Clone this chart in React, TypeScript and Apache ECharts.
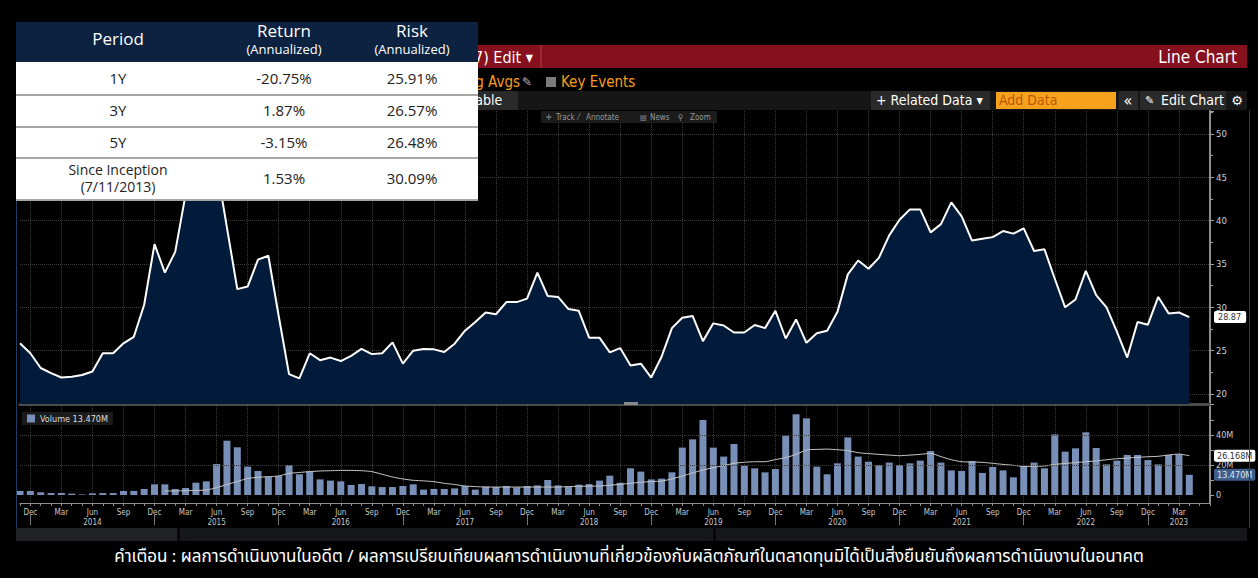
import React, { useEffect, useRef } from "react";
import * as echarts from "echarts";

// ---------- DATA ----------
const START_YEAR = 2013;
const START_MONTH = 11; // Nov 2013
const CATEGORY_COUNT = 116; // Nov 2013 .. Jun 2023 (axis runs 2 months past last data)

const categories: string[] = [];
for (let k = 0; k < CATEGORY_COUNT; k++) {
  const m0 = START_MONTH - 1 + k;
  const y = START_YEAR + Math.floor(m0 / 12);
  const m = (m0 % 12) + 1;
  categories.push(`${y}-${String(m).padStart(2, "0")}`);
}

const priceValues: number[] = [
  25.85, 24.7, 23.0, 22.4, 21.9, 22.0, 22.2, 22.6, 24.7, 24.7,
  25.85, 26.6, 30.3, 37.3, 34.0, 36.4, 43.0, 48.0, 49.0, 46.3,
  39.2, 32.1, 32.4, 35.5, 35.95, 29.0, 22.3, 21.8, 24.7, 23.9,
  24.2, 23.8, 24.4, 25.2, 24.6, 24.7, 25.96, 23.5, 25.0, 25.2,
  25.15, 24.85, 25.8, 27.3, 28.3, 29.4, 29.2, 30.6, 30.6, 31.0,
  34.0, 31.3, 31.2, 29.8, 29.6, 26.5, 26.5, 24.8, 25.3, 23.3,
  23.5, 21.9, 24.3, 27.6, 28.8, 29.0, 26.1, 28.15, 27.9, 27.1,
  27.1, 27.96, 27.6, 29.6, 26.4, 28.6, 25.9, 27.0, 27.3, 29.5,
  33.8, 35.4, 34.45, 35.7, 38.3, 40.1, 41.3, 41.3, 38.65, 39.6,
  42.1, 40.5, 37.7, 37.9, 38.1, 38.8, 38.5, 39.1, 36.5, 36.7,
  33.3, 30.0, 30.9, 34.2, 31.4, 30.0, 27.2, 24.2, 28.3, 28.0,
  31.2, 29.3, 29.4, 28.87,
];

// monthly volume, millions
const volumeValues: number[] = [
  2.7, 2.7, 1.8, 1.3, 1.3, 0.9, 0.4, 1.1, 1.3, 1.3,
  2.7, 2.7, 4.0, 7.1, 7.1, 4.0, 4.7, 8.2, 9.1, 20.7,
  36.2, 31.8, 18.9, 16.0, 12.2, 12.7, 20.0, 13.8, 15.8, 10.4,
  9.6, 9.1, 6.7, 7.3, 5.8, 5.3, 5.3, 6.0, 7.1, 3.6,
  4.0, 4.0, 4.4, 6.0, 3.6, 5.6, 5.3, 6.0, 5.1, 6.0,
  6.4, 10.0, 6.4, 5.6, 6.9, 7.3, 9.6, 12.9, 8.2, 17.8,
  15.6, 10.4, 10.9, 15.1, 31.6, 37.1, 50.0, 31.6, 25.6, 34.0,
  19.6, 17.8, 15.1, 17.3, 39.6, 53.8, 51.1, 18.9, 13.8, 21.1,
  38.4, 25.6, 22.2, 20.0, 21.6, 20.0, 21.1, 22.9, 29.3, 21.6,
  16.4, 16.0, 22.7, 14.7, 18.7, 16.4, 11.8, 19.3, 21.6, 17.8,
  40.4, 28.9, 31.1, 41.8, 31.3, 20.4, 22.9, 26.7, 26.7, 23.3,
  20.4, 26.7, 27.1, 13.47,
];

// volume moving average, millions
const volumeMA: (number | null)[] = [
  null, null, null, null, null, null, null, null, null, null,
  null, null, null, null, 2.7, 2.7, 2.9, 3.0, 3.3, 4.9,
  7.0, 9.0, 11.0, 11.8, 12.2, 12.7, 14.4, 15.0, 15.6, 16.0,
  16.2, 16.4, 16.4, 16.2, 15.6, 13.8, 12.0, 10.7, 9.8, 9.4,
  8.9, 7.8, 7.0, 6.0, 5.6, 5.3, 5.3, 5.3, 5.3, 5.3,
  5.3, 5.3, 5.3, 5.6, 5.8, 5.9, 6.0, 6.5, 7.1, 7.8,
  8.5, 8.9, 9.3, 10.7, 12.7, 14.7, 16.7, 18.2, 19.6, 21.1,
  21.8, 22.2, 22.2, 23.6, 24.9, 27.1, 30.0, 30.4, 30.6, 30.2,
  29.6, 28.2, 27.6, 27.1, 26.6, 26.2, 26.6, 27.1, 27.8, 25.6,
  23.5, 22.2, 22.0, 21.8, 21.1, 20.4, 19.8, 19.1, 19.2, 19.3,
  20.4, 21.0, 21.6, 22.2, 22.7, 23.5, 24.2, 24.6, 25.1, 25.5,
  25.8, 26.7, 27.3, 26.168,
];

const volumeTickLabels: Record<number, string> = { 0: "0", 20: "20M", 40: "40M" };
const volumeGridValues: number[] = [20, 40];

const tablePeriods: string[] = ["1Y", "3Y", "5Y", "Since Inception\n(7/11/2013)"];
const tableReturns: string[] = ["-20.75%", "1.87%", "-3.15%", "1.53%"];
const tableRisks: string[] = ["25.91%", "26.57%", "26.48%", "30.09%"];

const disclaimer =
  "คำเตือน : ผลการดำเนินงานในอดีต / ผลการเปรียบเทียบผลการดำเนินงานที่เกี่ยวข้องกับผลิตภัณฑ์ในตลาดทุนมิได้เป็นสิ่งยืนยันถึงผลการดำเนินงานในอนาคต";

// ---------- HELPERS ----------
const MONTHS = ["Jan", "Feb", "Mar", "Apr", "May", "Jun", "Jul", "Aug", "Sep", "Oct", "Nov", "Dec"];
const lastIdx = priceValues.length - 1;
const monthOf = (c: string) => parseInt(c.slice(5), 10);
const isQuarterIdx = (idx: number) =>
  idx <= lastIdx && [3, 6, 9, 12].includes(monthOf(categories[idx]));
const isYearEndIdx = (idx: number) => idx <= lastIdx && monthOf(categories[idx]) === 12;

const NARROW = "'Liberation Sans Narrow', 'Arial Narrow', 'DejaVu Sans Condensed', sans-serif";
const TABLE_FONT = "'Open Sans', 'Noto Sans', sans-serif";
const THAI_FONT = "'Noto Sans Thai', 'Noto Sans Thai UI', 'Noto Sans Thai Looped', 'Loma', 'Garuda', 'Noto Sans', sans-serif";

const rect = (x: number, y: number, w: number, h: number, fill: string, z = 50) => ({
  type: "rect",
  z,
  silent: true,
  shape: { x, y, width: w, height: h },
  style: { fill },
});
const line = (x1: number, y1: number, x2: number, y2: number, stroke: string, lineWidth = 1, z = 50) => ({
  type: "line",
  z,
  silent: true,
  shape: { x1, y1, x2, y2 },
  style: { stroke, lineWidth },
});
const text = (
  x: number,
  y: number,
  t: string,
  o: { fill?: string; size?: number; font?: string; align?: string; z?: number } = {}
) => ({
  type: "text",
  z: o.z ?? 50,
  silent: true,
  x,
  y,
  style: {
    text: t,
    fill: o.fill ?? "#fff",
    fontSize: o.size ?? 12,
    fontFamily: o.font ?? NARROW,
    align: o.align ?? "left",
    verticalAlign: "middle",
  },
});

function buildGraphics() {
  const g: any[] = [];
  // top chrome: red title bar
  g.push(rect(478, 45, 769, 23, "#86101d"));
  g.push(line(541, 45, 541, 68, "#b0404a", 1));
  g.push(text(474, 57, "7) Edit ▾", { size: 16 }));
  g.push(text(1237, 57, "Line Chart", { size: 17, align: "right" }));
  // second row
  g.push(text(520, 82, "Moving Avgs", { size: 15, fill: "#f79c1c", align: "right" }));
  g.push(text(522, 82, "✎", { size: 12, fill: "#bbbbbb", font: "DejaVu Sans" }));
  g.push(rect(546, 77, 10, 10, "#7a7a7a"));
  g.push(text(561, 82, "Key Events", { size: 15, fill: "#f79c1c" }));
  // toolbar row
  g.push(rect(478, 91, 769, 19, "#161616"));
  g.push(rect(478, 91, 40, 19, "#2a2a2a"));
  g.push(text(470, 100, "Table", { size: 14 }));
  g.push(rect(871, 91, 119, 19, "#2a2a2a"));
  g.push(text(876, 100, "+ Related Data ▾", { size: 14 }));
  g.push(rect(996, 92, 120, 17, "#f7a11c"));
  g.push(text(999, 100, "Add Data", { size: 14, fill: "#b85800" }));
  g.push(rect(1119, 91, 19, 19, "#2a2a2a"));
  g.push(text(1128, 100, "«", { size: 16, align: "center" }));
  g.push(rect(1140, 91, 86, 19, "#2a2a2a"));
  g.push(text(1145, 100, "✎", { size: 11, font: "DejaVu Sans" }));
  g.push(text(1161, 100, "Edit Chart", { size: 14 }));
  g.push(text(1237, 100, "⚙", { size: 13, align: "center", font: "DejaVu Sans" }));
  // mini toolbar
  g.push(rect(541, 111, 176, 12, "#1b1b1b"));
  const tb: [number, string][] = [
    [546, "✛"], [556, "Track"], [578, "⁄"], [586, "Annotate"],
    [640, "▤"], [650, "News"], [678, "⚲"], [690, "Zoom"],
  ];
  tb.forEach(([x, t]) => g.push(text(x, 117, t, { size: 8, fill: "#9a9a9a" })));
  // frame lines
  g.push(line(16.5, 110, 16.5, 528, "#1d3d63", 1));
  g.push(line(1249.5, 110, 1249.5, 528, "#1d3d63", 1));
  // separator handle
  g.push(rect(624, 402, 14, 3, "#8a8a8a"));
  // bottom strip
  g.push(rect(16, 528, 1231, 13, "#15171b"));
  g.push(rect(16, 528, 162, 13, "#1f2125"));
  g.push(line(178.5, 528, 178.5, 541, "#000", 2));
  g.push(line(714.5, 528, 714.5, 541, "#000", 2));
  // disclaimer
  g.push(text(629, 557, disclaimer, { size: 17, align: "center", font: THAI_FONT }));

  // ---- performance table overlay ----
  const TZ = 100;
  const colX = [118, 284, 412];
  g.push(rect(16, 22, 462, 40, "#0c2240", TZ));
  g.push(rect(16, 62, 462, 138, "#ffffff", TZ));
  g.push(text(colX[0], 38, "Period", { size: 17, font: TABLE_FONT, align: "center", z: TZ + 1 }));
  g.push(text(colX[1], 30, "Return", { size: 17, font: TABLE_FONT, align: "center", z: TZ + 1 }));
  g.push(text(colX[1], 49, "(Annualized)", { size: 13, font: TABLE_FONT, align: "center", z: TZ + 1 }));
  g.push(text(colX[2], 30, "Risk", { size: 17, font: TABLE_FONT, align: "center", z: TZ + 1 }));
  g.push(text(colX[2], 49, "(Annualized)", { size: 13, font: TABLE_FONT, align: "center", z: TZ + 1 }));
  const rowEdges = [62, 95, 127, 158, 200];
  for (let r = 0; r < tablePeriods.length; r++) {
    const top = rowEdges[r];
    const bot = rowEdges[r + 1];
    const cy = (top + bot) / 2 - 1;
    const cells = [tablePeriods[r], tableReturns[r], tableRisks[r]];
    cells.forEach((c, ci) => {
      const parts = c.split("\n");
      if (parts.length === 1) {
        g.push(text(colX[ci], cy, c, { size: 15, font: TABLE_FONT, fill: "#222", align: "center", z: TZ + 1 }));
      } else {
        parts.forEach((p, pi) => {
          g.push(
            text(colX[ci], cy - 8.5 + pi * 17, p, {
              size: 14,
              font: TABLE_FONT,
              fill: "#222",
              align: "center",
              z: TZ + 1,
            })
          );
        });
      }
    });
    g.push(line(16, bot, 478, bot, "#a6a6a6", 2, TZ + 2));
  }
  return g;
}

function buildOption() {
  const gridLine = { color: "#3c3c3c", type: "dotted" as const, width: 1 };
  const axisGrey = "#8c8c8c";
  const hidden = { color: "rgba(0,0,0,0)", width: 0 };
  return {
    animation: false,
    backgroundColor: "#000",
    grid: [
      { left: 20, right: 48, top: 111, height: 293 },
      { left: 20, right: 48, top: 406, height: 97 },
    ],
    legend: {
      data: ["Volume"],
      left: 22,
      top: 412,
      icon: "rect",
      itemWidth: 8,
      itemHeight: 8,
      itemGap: 4,
      padding: [2, 5, 2, 5],
      backgroundColor: "#1b1b1b",
      selectedMode: false,
      formatter: (name: string) => `${name} ${volumeValues[lastIdx].toFixed(3)}M`,
      textStyle: { color: "#dddddd", fontSize: 9, fontFamily: NARROW },
    },
    xAxis: [
      {
        type: "category",
        gridIndex: 0,
        data: categories,
        boundaryGap: false,
        axisLabel: { show: false },
        axisTick: { show: false },
        axisLine: { show: true, onZero: false, lineStyle: { color: "#4b4b4b", width: 3 } },
        splitLine: { show: true, interval: (i: number) => isQuarterIdx(i), lineStyle: gridLine },
      },
      {
        type: "category",
        gridIndex: 1,
        data: categories,
        boundaryGap: false,
        axisLine: { show: true, onZero: false, lineStyle: { color: axisGrey, width: 1 } },
        axisTick: { show: true, interval: 0, length: 3, lineStyle: { color: axisGrey } },
        splitLine: { show: true, interval: (i: number) => isQuarterIdx(i), lineStyle: gridLine },
        axisLabel: {
          show: true,
          interval: (i: number) => isQuarterIdx(i),
          margin: 4,
          color: "#c8c8c8",
          fontSize: 8,
          lineHeight: 10,
          fontFamily: NARROW,
          formatter: (v: string, idx: number) => {
            const m = monthOf(v);
            const y = v.slice(0, 4);
            const showYear = m === 6 || (m === 3 && idx + 3 > lastIdx);
            return showYear ? `${MONTHS[m - 1]}\n${y}` : MONTHS[m - 1];
          },
        },
      },
      {
        type: "category",
        gridIndex: 1,
        data: categories,
        boundaryGap: false,
        position: "bottom",
        offset: 12,
        axisLine: { show: false, onZero: false },
        axisLabel: { show: false },
        splitLine: { show: false },
        axisTick: {
          show: true,
          interval: (i: number) => isYearEndIdx(i),
          length: 10,
          lineStyle: { color: "#7a7a7a" },
        },
      },
    ],
    yAxis: [
      {
        type: "value",
        gridIndex: 0,
        position: "right",
        min: 18.846,
        max: 52.65,
        axisLine: { show: true, lineStyle: { color: axisGrey, width: 2 } },
        axisTick: { show: true, length: 4, lineStyle: { color: "#a0a0a0" } },
        minorTick: { show: true, splitNumber: 2, length: 3, lineStyle: { color: "#a0a0a0" } },
        axisLabel: {
          color: "#d0d0d0",
          fontSize: 9.5,
          margin: 6,
          fontFamily: NARROW,
          showMinLabel: false,
          showMaxLabel: false,
        },
        splitLine: { show: true, showMinLine: false, showMaxLine: false, lineStyle: gridLine },
      },
      {
        type: "value",
        gridIndex: 1,
        position: "right",
        min: -5.333,
        max: 59.33,
        axisLine: { show: true, lineStyle: { color: axisGrey, width: 2 } },
        axisTick: { show: true, length: 4, lineStyle: { color: "#a0a0a0" } },
        axisLabel: {
          color: "#d0d0d0",
          fontSize: 9,
          margin: 6,
          fontFamily: NARROW,
          showMinLabel: false,
          showMaxLabel: false,
          formatter: (v: number) => volumeTickLabels[Math.round(v * 1000) / 1000] ?? "",
        },
        splitLine: { show: false },
      },
    ],
    series: [
      {
        name: "Price",
        type: "line",
        xAxisIndex: 0,
        yAxisIndex: 0,
        data: priceValues,
        symbol: "none",
        clip: false,
        lineStyle: { color: "#ffffff", width: 2 },
        areaStyle: { color: "#031b3b", opacity: 1 },
        z: 3,
        markLine: {
          silent: true,
          symbol: ["none", "none"],
          lineStyle: hidden,
          data: [{ yAxis: priceValues[lastIdx] }],
          label: {
            show: true,
            position: "end",
            distance: 4,
            formatter: () => priceValues[lastIdx].toFixed(2),
            backgroundColor: "#ffffff",
            color: "#333",
            fontSize: 9,
            fontFamily: NARROW,
            padding: [2, 5, 1, 4],
            borderRadius: 2,
          },
        },
      },
      {
        name: "Volume",
        type: "bar",
        xAxisIndex: 1,
        yAxisIndex: 1,
        data: volumeValues,
        barWidth: 7,
        clip: false,
        itemStyle: { color: "#7890b8" },
        z: 3,
        markLine: {
          silent: true,
          symbol: ["none", "none"],
          data: [
            ...volumeGridValues.map((v) => ({
              yAxis: v,
              lineStyle: { color: "#3c3c3c", type: "dotted", width: 1 },
              label: { show: false },
            })),
            {
              yAxis: volumeValues[lastIdx],
              lineStyle: hidden,
              label: {
                show: true,
                position: "end",
                distance: 4,
                formatter: () => `${volumeValues[lastIdx].toFixed(3)}M`,
                backgroundColor: "#3f5e8a",
                color: "#dfe7f3",
                fontSize: 9,
                fontFamily: NARROW,
                padding: [2, 3, 1, 3],
                borderRadius: 2,
              },
            },
          ],
        },
      },
      {
        name: "Volume MA",
        type: "line",
        xAxisIndex: 1,
        yAxisIndex: 1,
        data: volumeMA,
        symbol: "none",
        smooth: 0.2,
        clip: false,
        lineStyle: { color: "#c8c8c8", width: 1 },
        z: 4,
        markLine: {
          silent: true,
          symbol: ["none", "none"],
          lineStyle: hidden,
          data: [{ yAxis: volumeMA[lastIdx] as number }],
          label: {
            show: true,
            position: "end",
            distance: 4,
            formatter: () => `${(volumeMA[lastIdx] as number).toFixed(3)}M`,
            backgroundColor: "#ffffff",
            color: "#333",
            fontSize: 9,
            fontFamily: NARROW,
            padding: [2, 3, 1, 3],
            borderRadius: 2,
          },
        },
      },
    ],
    graphic: buildGraphics(),
  };
}

export default function App() {
  const ref = useRef<HTMLDivElement>(null);
  useEffect(() => {
    if (!ref.current) return;
    const chart = echarts.init(ref.current, undefined, { renderer: "svg" });
    chart.setOption(buildOption() as any);
    return () => chart.dispose();
  }, []);
  return (
    <div style={{ position: "fixed", left: 0, top: 0, width: 1258, height: 578, background: "#000" }}>
      <div ref={ref} style={{ width: 1258, height: 578 }} />
    </div>
  );
}
